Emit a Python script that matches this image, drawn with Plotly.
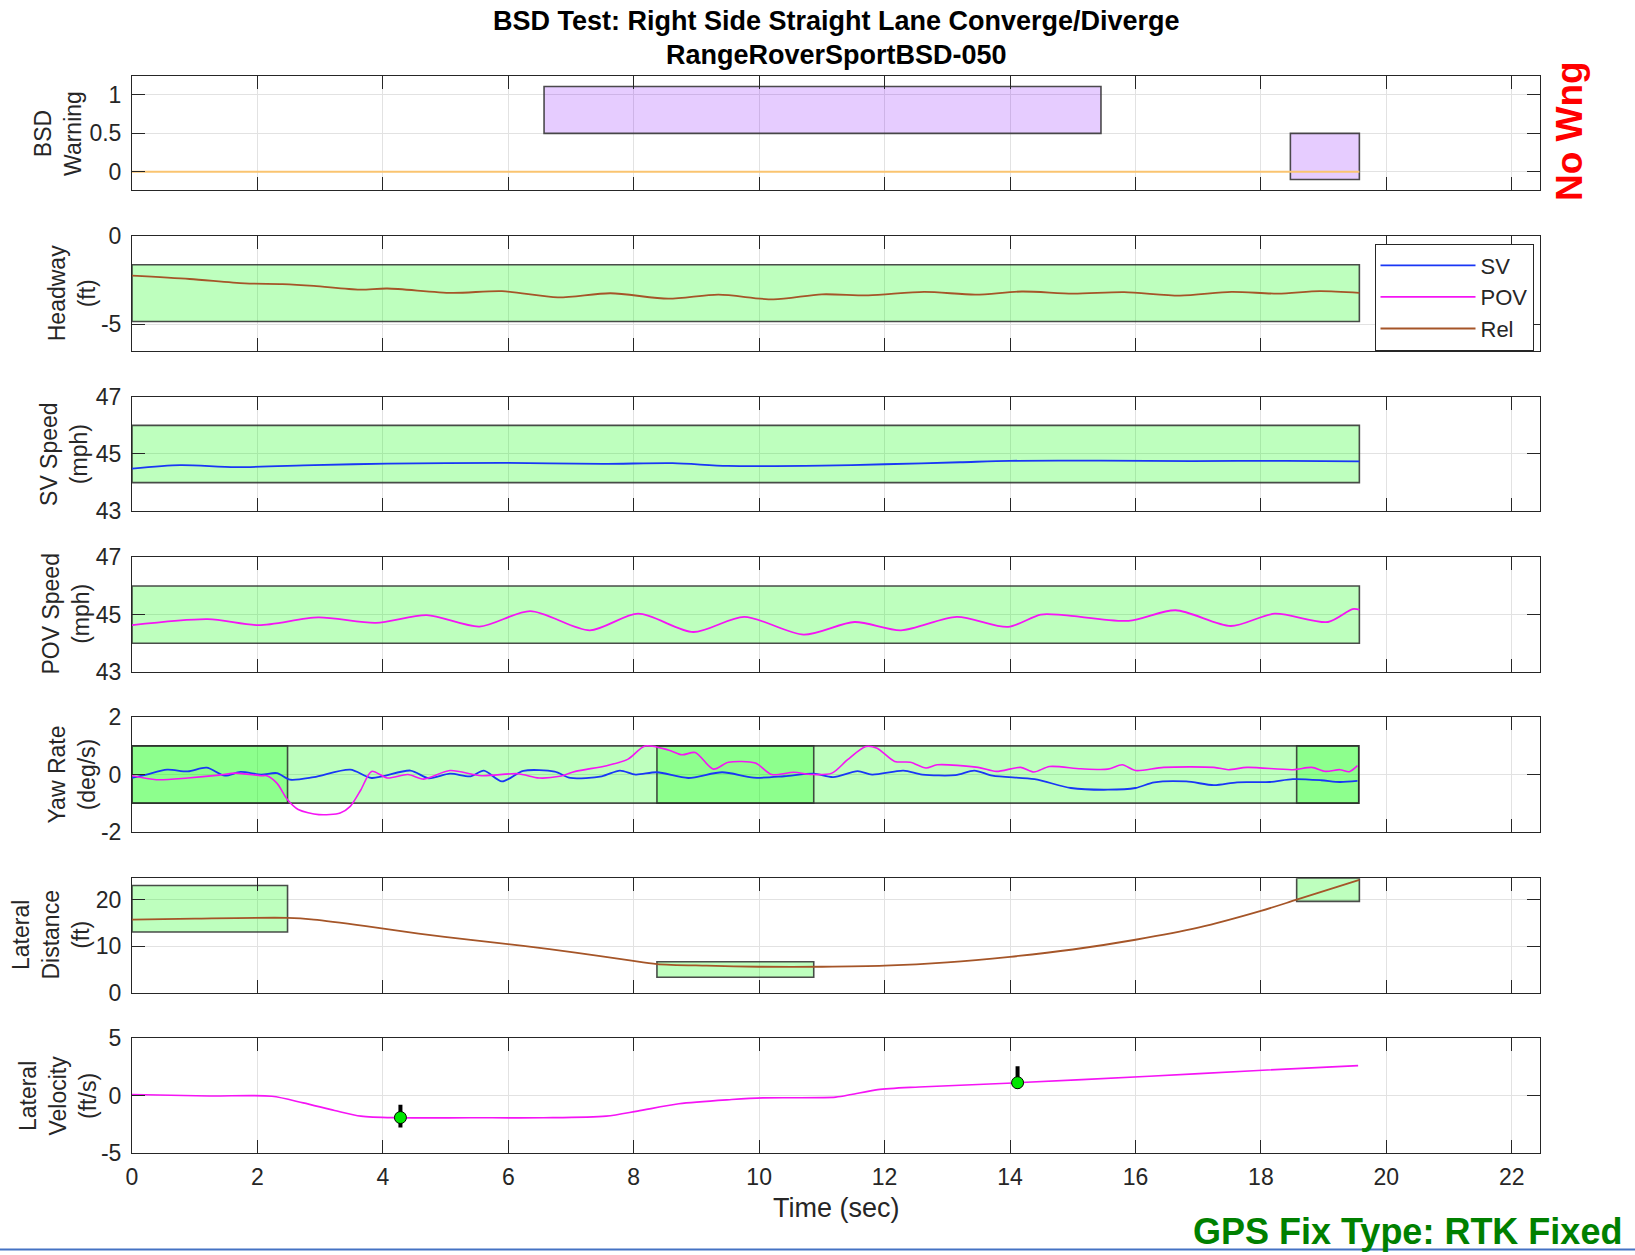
import plotly.graph_objects as go

# ---------------- data ----------------
X_TICKS = [0, 2, 4, 6, 8, 10, 12, 14, 16, 18, 20, 22]
X_TICK_TEXT = ["0", "2", "4", "6", "8", "10", "12", "14", "16", "18", "20", "22"]
X_MAX = 22.45

# Panel 1: BSD warning
bsd_t = [0, 19.57]
bsd_warn = [0, 0]
warn_box_x0 = [6.57, 18.47]
warn_box_x1 = [15.45, 19.57]
warn_box_y0 = [0.5, -0.1]
warn_box_y1 = [1.11, 0.5]
bsd_ticks = [0, 0.5, 1]
bsd_ticktext = ["0", "0.5", "1"]
bsd_range = [-0.24, 1.25]

# Panel 2: Headway (Rel)
hw_t = [0, 0.92, 1.8, 2.4, 2.9, 3.63, 4.07, 5.1, 5.9, 6.79, 7.63, 8.55, 9.35, 10.23,
        11.0, 11.74, 12.63, 13.45, 14.19, 15.0, 15.82, 16.71, 17.53, 18.27, 18.94, 19.57]
hw_rel = [-2.25, -2.44, -2.69, -2.73, -2.83, -3.04, -2.98, -3.23, -3.13, -3.48, -3.25, -3.56, -3.33, -3.6,
          -3.31, -3.37, -3.17, -3.33, -3.15, -3.27, -3.19, -3.38, -3.17, -3.27, -3.13, -3.23]
hw_box = [0, 19.57, -4.85, -1.63]
hw_ticks = [-5, 0]
hw_ticktext = ["-5", "0"]
hw_range = [-6.5, 0]

# Panel 3: SV speed
sv_t = [0, 0.77, 1.65, 2.9, 4.07, 5.9, 7.5, 8.62, 9.5, 11.0, 12.0, 13.2, 14.0, 15.45, 16.9, 18.4, 19.57]
sv_spd = [44.49, 44.61, 44.54, 44.61, 44.66, 44.69, 44.65, 44.68, 44.58, 44.59, 44.64, 44.71, 44.76,
          44.77, 44.75, 44.76, 44.74]
spd_box = [0, 19.57, 44.0, 46.0]
spd_ticks = [43, 45, 47]
spd_ticktext = ["43", "45", "47"]
spd_range = [43, 47]

# Panel 4: POV speed
pov_t = [0, 1.21, 2.02, 2.97, 3.89, 4.7, 5.54, 6.35, 7.3, 8.07, 8.95, 9.76, 10.71, 11.52, 12.26,
         13.15, 13.97, 14.49, 14.86, 15.89, 16.64, 17.52, 18.22, 19.07, 19.46, 19.57]
pov_spd = [44.63, 44.84, 44.63, 44.9, 44.71, 44.98, 44.58, 45.12, 44.45, 45.03, 44.39, 44.92, 44.3,
           44.74, 44.45, 44.92, 44.57, 45.0, 44.98, 44.78, 45.15, 44.6, 45.03, 44.74, 45.19, 45.17]

# Panel 5: Yaw rate
ysv_t = [0, 0.23, 0.56, 0.89, 1.19, 1.48, 1.73, 2.06, 2.31, 2.52, 2.9, 3.48, 3.82, 4.44, 4.73,
         5.07, 5.4, 5.61, 5.9, 6.24, 6.74, 6.99, 7.49, 7.78, 8.03, 8.37, 8.87, 9.41, 9.91, 10.4,
         10.87, 11.18, 11.57, 11.8, 12.3, 12.6, 13.13, 13.43, 13.72, 14.39, 14.97, 15.56, 16.0, 16.3,
         16.81, 17.25, 17.62, 18.14, 18.51, 18.96, 19.26, 19.54]
ysv = [-0.12, 0, 0.17, 0.11, 0.24, -0.04, 0.09, 0, 0.05, -0.18, -0.09, 0.17, -0.12, 0.14, -0.13,
       0.03, -0.06, 0.14, -0.24, 0.13, 0.1, -0.12, -0.06, 0.14, 0, 0.08, -0.12, 0.08, -0.11, -0.06,
       0.03, -0.09, 0.12, 0, 0.14, 0, -0.02, 0.14, -0.04, -0.16, -0.47, -0.53, -0.47, -0.27,
       -0.24, -0.37, -0.27, -0.26, -0.16, -0.2, -0.26, -0.22]
ypov_t = [0, 0.39, 0.89, 1.39, 1.65, 2.06, 2.15, 2.31, 2.48, 2.65, 2.98, 3.32, 3.48, 3.65, 3.82,
          4.07, 4.4, 4.65, 5.07, 5.57, 6.15, 6.49, 6.82, 7.07, 7.57, 7.91, 8.18, 8.55, 8.77, 8.98,
          9.27, 9.51, 9.94, 10.2, 10.55, 10.84, 11.16, 11.41, 11.7, 11.88, 12.16, 12.41, 12.66, 12.84,
          13.49, 13.78, 14.17, 14.38, 14.63, 15.13, 15.56, 15.79, 16.0, 16.45, 17.25, 17.48, 17.78,
          18.51, 18.81, 19.03, 19.26, 19.41, 19.54]
ypov = [-0.04, -0.18, -0.12, -0.02, 0.05, -0.04, -0.04, -0.3, -0.88, -1.22, -1.4, -1.34, -1.11,
        -0.53, 0.11, -0.12, 0, -0.16, 0.14, -0.04, 0.03, -0.12, -0.06, 0.11, 0.31, 0.54, 1.0, 0.86,
        0.69, 0.77, 0.19, 0.43, 0.4, 0, 0.08, 0, 0.05, 0.52, 0.98, 0.92, 0.46, 0.43, 0.23, 0.34,
        0.25, 0.11, 0.25, 0.09, 0.28, 0.2, 0.19, 0.34, 0.14, 0.25, 0.25, 0.17, 0.25, 0.17, 0.25,
        0.11, 0.17, 0.1, 0.31]
yaw_box_x0 = [0, 0, 8.37, 18.57]
yaw_box_x1 = [19.56, 2.48, 10.87, 19.56]
yaw_box_y0 = [-1, -1, -1, -1]
yaw_box_y1 = [1, 1, 1, 1]
yaw_ticks = [-2, 0, 2]
yaw_ticktext = ["-2", "0", "2"]
yaw_range = [-2, 2]

# Panel 6: Lateral distance
ld_t = [0, 1.0, 2.48, 2.9, 3.73, 4.57, 5.4, 6.24, 7.07, 7.91, 8.37, 9.16, 10.0, 11.0, 12.0, 13.0,
        14.0, 15.0, 16.0, 17.0, 18.0, 18.57, 19.57]
ld = [15.74, 15.95, 16.1, 15.74, 14.33, 12.7, 11.35, 10.07, 8.65, 7.02, 6.17, 5.82, 5.6, 5.6, 5.82,
      6.52, 7.73, 9.3, 11.4, 14.0, 17.6, 20.0, 24.26]
ld_box_x0 = [0, 8.37, 18.57]
ld_box_x1 = [2.48, 10.87, 19.57]
ld_box_y0 = [13.05, 3.33, 19.65]
ld_box_y1 = [23.05, 6.67, 24.6]
ld_ticks = [0, 10, 20]
ld_ticktext = ["0", "10", "20"]
ld_range = [0, 24.6]

# Panel 7: Lateral velocity
lv_t = [0, 1.23, 2.23, 2.73, 3.23, 3.65, 4.23, 5.4, 6.56, 7.56, 8.06, 8.72, 9.56, 10.06, 11.22,
        11.47, 11.89, 12.55, 14.05, 16.22, 17.88, 19.55]
lv = [0.09, -0.04, -0.06, -0.64, -1.3, -1.8, -1.94, -1.94, -1.94, -1.8, -1.36, -0.72, -0.35,
      -0.2, -0.14, 0.09, 0.52, 0.75, 1.1, 1.68, 2.17, 2.61]
lv_mark_t = [4.28, 14.12]
lv_mark_v = [-1.92, 1.12]
lv_bar_top = [-0.8, 2.55]
lv_bar_bot = [-2.8, 0.6]
lv_ticks = [-5, 0, 5]
lv_ticktext = ["-5", "0", "5"]
lv_range = [-5, 5]

# ---------------- styling ----------------
W, H = 1635, 1255
FONT = "Liberation Sans, Arial, Helvetica, sans-serif"
AX = "rgb(38,38,38)"
GRID = "rgb(226,226,226)"
BLUE = "rgb(25,55,245)"
MAG = "rgb(245,20,245)"
BROWN = "rgb(165,85,40)"
ORANGE = "rgb(250,196,112)"
GREEN_FILL = "rgba(0,255,0,0.255)"
PURPLE_FILL = "rgba(128,0,255,0.2)"
EDGE = "rgba(45,45,45,0.85)"

X0, X1 = 132 / W, 1540 / W
tops = [75.7, 236, 396.7, 557.3, 717.3, 878.3, 1038.3]
PH = 114.5


def ydom(i):
    t = tops[i]
    return [1 - (t + PH) / H, 1 - t / H]


fig = go.Figure()


def ax_name(i, kind):
    return kind if i == 0 else f"{kind}{i + 1}"


def add_line(i, x, y, color, width=1.8, name=None, show=False, rank=None, shape="spline"):
    fig.add_trace(go.Scatter(
        x=x, y=y, mode="lines", line=dict(color=color, width=width, shape=shape, smoothing=0.8),
        xaxis=ax_name(i, "x"), yaxis=ax_name(i, "y"), name=name, showlegend=show,
        legendrank=rank if rank else 1000, hoverinfo="skip"))


shapes = []


def add_box(i, x0, x1, y0, y1, fill):
    shapes.append(dict(type="rect", xref=ax_name(i, "x"), yref=ax_name(i, "y"),
                       x0=x0, x1=x1, y0=y0, y1=y1, fillcolor=fill,
                       line=dict(color=EDGE, width=1.6), layer="between"))


# Panel 1
for a, b, c, d in zip(warn_box_x0, warn_box_x1, warn_box_y0, warn_box_y1):
    add_box(0, a, b, c, d, PURPLE_FILL)
add_line(0, bsd_t, bsd_warn, ORANGE, width=2.2, shape="linear")

# Panel 2
add_box(1, hw_box[0], hw_box[1], hw_box[2], hw_box[3], GREEN_FILL)
add_line(1, hw_t, hw_rel, BROWN, name="Rel", show=True, rank=3)

# Panel 3
add_box(2, spd_box[0], spd_box[1], spd_box[2], spd_box[3], GREEN_FILL)
add_line(2, sv_t, sv_spd, BLUE, name="SV", show=True, rank=1)

# Panel 4
add_box(3, spd_box[0], spd_box[1], spd_box[2], spd_box[3], GREEN_FILL)
add_line(3, pov_t, pov_spd, MAG, name="POV", show=True, rank=2)

# Panel 5
for a, b, c, d in zip(yaw_box_x0, yaw_box_x1, yaw_box_y0, yaw_box_y1):
    add_box(4, a, b, c, d, GREEN_FILL)
add_line(4, ysv_t, ysv, BLUE, width=1.8)
add_line(4, ypov_t, ypov, MAG, width=1.6)

# Panel 6
for a, b, c, d in zip(ld_box_x0, ld_box_x1, ld_box_y0, ld_box_y1):
    add_box(5, a, b, c, d, GREEN_FILL)
add_line(5, ld_t, ld, BROWN)

# Panel 7
add_line(6, lv_t, lv, MAG, width=1.6)
bx, by = [], []
for t, top, bot in zip(lv_mark_t, lv_bar_top, lv_bar_bot):
    bx += [t, t, None]
    by += [bot, top, None]
fig.add_trace(go.Scatter(x=bx, y=by, mode="lines", line=dict(color="black", width=4),
                         xaxis="x7", yaxis="y7", showlegend=False, hoverinfo="skip"))
fig.add_trace(go.Scatter(x=lv_mark_t, y=lv_mark_v, mode="markers",
                         marker=dict(color="rgb(0,230,0)", size=12, line=dict(color="black", width=1)),
                         xaxis="x7", yaxis="y7", showlegend=False, hoverinfo="skip"))

axis_common = dict(showline=True, linecolor=AX, linewidth=1, mirror="ticks", ticks="inside",
                   ticklen=13, tickcolor=AX, tickwidth=1, showgrid=True, gridcolor=GRID,
                   gridwidth=1, zeroline=False, automargin=False,
                   tickfont=dict(family=FONT, size=23, color=AX))

y_specs = [
    (bsd_range, bsd_ticks, bsd_ticktext),
    (hw_range, hw_ticks, hw_ticktext),
    (spd_range, spd_ticks, spd_ticktext),
    (spd_range, spd_ticks, spd_ticktext),
    (yaw_range, yaw_ticks, yaw_ticktext),
    (ld_range, ld_ticks, ld_ticktext),
    (lv_range, lv_ticks, lv_ticktext),
]

layout_axes = {}
for i in range(7):
    xk = "xaxis" if i == 0 else f"xaxis{i + 1}"
    yk = "yaxis" if i == 0 else f"yaxis{i + 1}"
    layout_axes[xk] = dict(axis_common, domain=[X0, X1], range=[0, X_MAX], tickmode="array",
                           tickvals=X_TICKS, ticktext=X_TICK_TEXT, anchor=ax_name(i, "y"),
                           showticklabels=(i == 6), ticklabelstandoff=4)
    rng, tv, tt = y_specs[i]
    layout_axes[yk] = dict(axis_common, domain=ydom(i), range=rng, tickmode="array",
                           tickvals=tv, ticktext=tt, anchor=ax_name(i, "x"),
                           ticklabelstandoff=5)

ylabels = [
    ("BSD<br>Warning", 58),
    ("Headway<br>(ft)", 72),
    ("SV Speed<br>(mph)", 64),
    ("POV Speed<br>(mph)", 66),
    ("Yaw Rate<br>(deg/s)", 72),
    ("Lateral<br>Distance<br>(ft)", 51),
    ("Lateral<br>Velocity<br>(ft/s)", 58),
]

annotations = []
for i, (txt, xc) in enumerate(ylabels):
    yc = tops[i] + PH / 2
    annotations.append(dict(text=txt, x=xc / W, y=1 - yc / H, xref="paper", yref="paper",
                            xanchor="center", yanchor="middle", textangle=-90, showarrow=False,
                            font=dict(family=FONT, size=23, color=AX)))

annotations += [
    dict(text="<b>BSD Test: Right Side Straight Lane Converge/Diverge</b>", x=836 / W, y=1 - 21 / H,
         xref="paper", yref="paper", xanchor="center", yanchor="middle", showarrow=False,
         font=dict(family=FONT, size=27, color="black")),
    dict(text="<b>RangeRoverSportBSD-050</b>", x=836 / W, y=1 - 55 / H,
         xref="paper", yref="paper", xanchor="center", yanchor="middle", showarrow=False,
         font=dict(family=FONT, size=27, color="black")),
    dict(text="Time (sec)", x=836 / W, y=1 - 1208 / H, xref="paper", yref="paper",
         xanchor="center", yanchor="middle", showarrow=False,
         font=dict(family=FONT, size=27, color=AX)),
    dict(text="<b>No Wng</b>", x=1569 / W, y=1 - 131 / H, xref="paper", yref="paper",
         xanchor="center", yanchor="middle", textangle=-90, showarrow=False,
         font=dict(family=FONT, size=37, color="rgb(255,0,0)")),
    dict(text="<b>GPS Fix Type: RTK Fixed</b>", x=1624 / W, y=1 - 1231 / H, xref="paper",
         yref="paper", xanchor="right", yanchor="middle", showarrow=False,
         font=dict(family=FONT, size=36, color="rgb(0,128,0)")),
]

shapes.append(dict(type="line", xref="paper", yref="paper", x0=0, x1=1, y0=1 - 1249.5 / H,
                   y1=1 - 1249.5 / H, line=dict(color="rgb(68,114,196)", width=2)))

fig.update_layout(
    width=W, height=H, margin=dict(l=0, r=0, t=0, b=0, pad=0, autoexpand=False),
    paper_bgcolor="white", plot_bgcolor="white",
    shapes=shapes, annotations=annotations,
    legend=dict(x=1533.5 / W, y=1 - 243.5 / H, xanchor="right", yanchor="top",
                bgcolor="white", bordercolor=AX, borderwidth=1,
                font=dict(family=FONT, size=22, color=AX), itemwidth=95,
                tracegroupgap=0),
    **layout_axes,
)

fig.write_html("out.html", config={"displayModeBar": False},
               post_script="document.body.style.margin='0';document.body.style.overflow='hidden';")
